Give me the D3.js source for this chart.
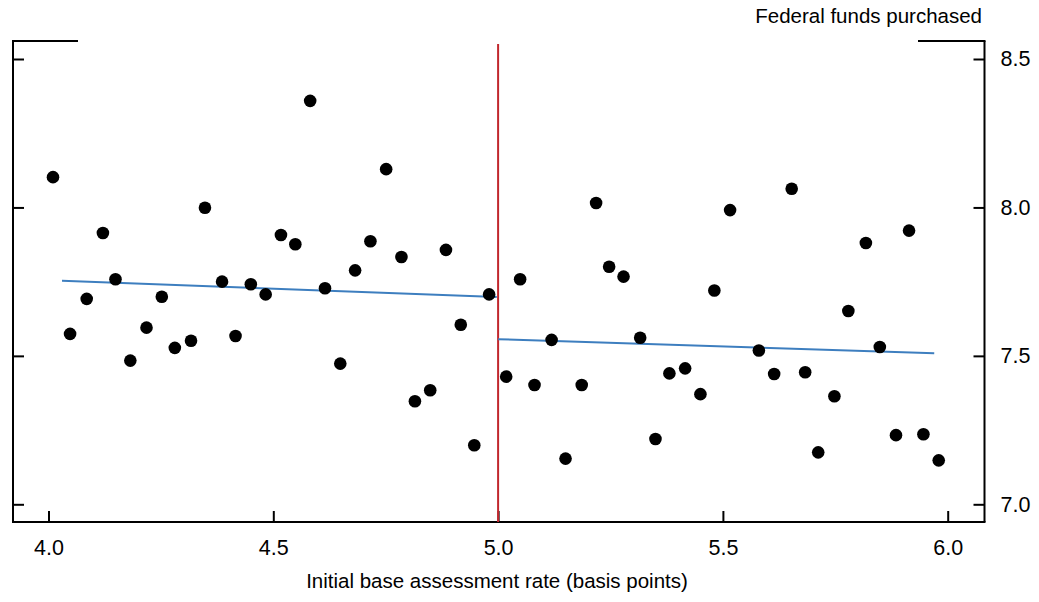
<!DOCTYPE html>
<html>
<head>
<meta charset="utf-8">
<script src="https://cdn.jsdelivr.net/npm/d3@7"></script>
<style>
  body { margin: 0; background: #fff; }
  text { font-family: "Liberation Sans", Arial, Helvetica, sans-serif; }
</style>
</head>
<body>
<div id="chart-container"></div>
<script>
// initial base assessment rate (basis points)
var rate = [
  4.010, 4.048, 4.085, 4.121, 4.149, 4.182, 4.218, 4.252, 4.281, 4.317,
  4.348, 4.386, 4.416, 4.450, 4.483, 4.517, 4.549, 4.582, 4.615, 4.649,
  4.682, 4.716, 4.751, 4.785, 4.815, 4.849, 4.884, 4.917, 4.947, 4.980,
  5.018, 5.049, 5.081, 5.119, 5.150, 5.186, 5.218, 5.247, 5.279, 5.316,
  5.350, 5.381, 5.416, 5.450, 5.481, 5.516, 5.580, 5.614, 5.653, 5.683,
  5.712, 5.748, 5.779, 5.818, 5.849, 5.885, 5.914, 5.946, 5.980
];
// federal funds purchased
var funds = [
  8.102, 7.574, 7.692, 7.914, 7.758, 7.484, 7.595, 7.699, 7.527, 7.551,
  7.999, 7.750, 7.567, 7.741, 7.707, 7.907, 7.876, 8.359, 7.728, 7.474,
  7.788, 7.886, 8.129, 7.833, 7.347, 7.384, 7.857, 7.605, 7.199, 7.707,
  7.430, 7.758, 7.402, 7.554, 7.154, 7.402, 8.015, 7.800, 7.767, 7.561,
  7.220, 7.441, 7.458, 7.371, 7.720, 7.991, 7.518, 7.439, 8.063, 7.445,
  7.175, 7.364, 7.651, 7.880, 7.530, 7.233, 7.922, 7.236, 7.148
];
// linear fits either side of the cutoff
var fitLeft = [[4.030, 7.753], [4.997, 7.698]];
var fitRight = [[5.000, 7.556], [5.970, 7.509]];
var cutoff = 5.0;

var xTicks = [4.0, 4.5, 5.0, 5.5, 6.0];
var yTicks = [7.0, 7.5, 8.0, 8.5];

var W = 1039, H = 602;
var frame = {left: 13, right: 984.5, top: 41, bottom: 522};

var svg = d3.select("#chart-container")
    .append("svg")
    .attr("width", W)
    .attr("height", H);

var x = d3.scaleLinear()
    .domain([4, 6])
    .range([frame.left + 35.5, frame.right - 36.8]);

var y = d3.scaleLinear()
    .domain([7, 8.5])
    .range([frame.bottom - 17.7, frame.top + 18]);

var fontSize = "20.5px";
var tickFont = "21.5px";

// bottom axis, ticks pointing inward
var gx = svg.append("g")
    .attr("class", "x-axis")
    .attr("transform", "translate(0," + frame.bottom + ")")
    .call(d3.axisBottom(x).tickValues(xTicks).tickSize(-11).tickPadding(18)
        .tickFormat(d3.format(".1f")));

// right axis with labels
var gy = svg.append("g")
    .attr("class", "y-axis")
    .attr("transform", "translate(" + frame.right + ",0)")
    .call(d3.axisRight(y).tickValues(yTicks).tickSize(-11).tickPadding(16)
        .tickFormat(d3.format(".1f")));

// left axis, ticks only
var gyl = svg.append("g")
    .attr("class", "y-axis-left")
    .attr("transform", "translate(" + frame.left + ",0)")
    .call(d3.axisLeft(y).tickValues(yTicks).tickSize(-11).tickFormat(""));

[gx, gy, gyl].forEach(function(g) {
    g.select(".domain").remove();
    g.selectAll(".tick line").attr("stroke", "#000").attr("stroke-width", 2);
    g.selectAll(".tick text")
        .attr("fill", "#000")
        .style("font-size", tickFont)
        .style("font-family", "'Liberation Sans', Arial, sans-serif");
});

// frame: full left, right, bottom; top only at the corners
var frameLines = [
    [frame.left, frame.top, frame.left, frame.bottom],
    [frame.right, frame.top, frame.right, frame.bottom],
    [frame.left - 1, frame.bottom, frame.right + 1, frame.bottom],
    [frame.left - 1, frame.top, 78, frame.top],
    [918, frame.top, frame.right + 1, frame.top]
];
svg.selectAll("line.frame")
    .data(frameLines)
    .enter().append("line")
    .attr("class", "frame")
    .attr("x1", d => d[0]).attr("y1", d => d[1])
    .attr("x2", d => d[2]).attr("y2", d => d[3])
    .attr("stroke", "#000")
    .attr("stroke-width", 2);

// cutoff line
svg.append("line")
    .attr("x1", x(cutoff)).attr("x2", x(cutoff))
    .attr("y1", 44).attr("y2", frame.bottom)
    .attr("stroke", "#c1272d")
    .attr("stroke-width", 2);

// fitted lines
var line = d3.line()
    .x(function(d) { return x(d[0]); })
    .y(function(d) { return y(d[1]); });

[fitLeft, fitRight].forEach(function(f) {
    svg.append("path")
        .datum(f)
        .attr("fill", "none")
        .attr("stroke", "#3d7ebf")
        .attr("stroke-width", 2)
        .attr("d", line);
});

// scatter points
svg.selectAll("circle.pt")
    .data(rate)
    .enter().append("circle")
    .attr("class", "pt")
    .attr("cx", function(d) { return x(d); })
    .attr("cy", function(d, i) { return y(funds[i]); })
    .attr("r", 6.3)
    .attr("fill", "#000");

// titles
svg.append("text")
    .attr("x", 982)
    .attr("y", 22.5)
    .attr("text-anchor", "end")
    .style("font-size", fontSize)
    .text("Federal funds purchased");

svg.append("text")
    .attr("x", (304 + 690) / 2)
    .attr("y", 588)
    .attr("text-anchor", "middle")
    .style("font-size", fontSize)
    .text("Initial base assessment rate (basis points)");
</script>
</body>
</html>
